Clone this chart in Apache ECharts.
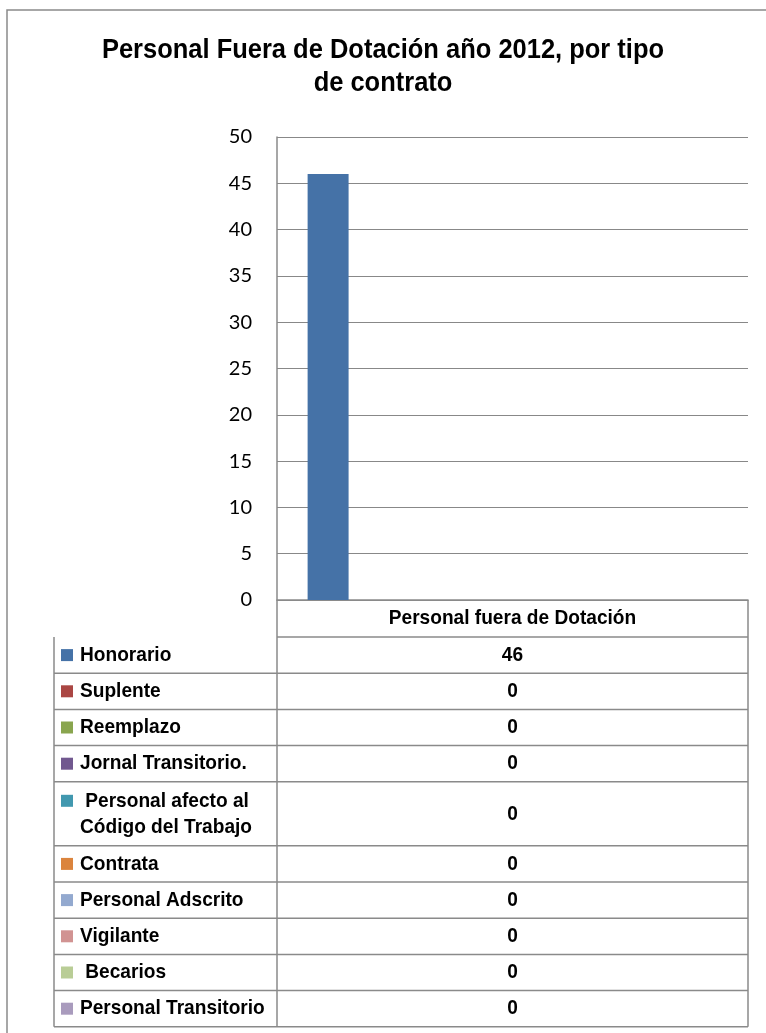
<!DOCTYPE html>
<html><head><meta charset="utf-8">
<script src="https://cdn.jsdelivr.net/npm/echarts@6/dist/echarts.min.js"></script>
<style>html,body{margin:0;padding:0;background:#fff}#c{width:766px;height:1033px}</style>
</head><body><div id="c"></div>
<script>
// ---- data ----
const chartTitle = 'Personal Fuera de Dotación año 2012, por tipo\nde contrato';
const categories = ['Personal fuera de Dotación'];
const seriesNames = ['Honorario', 'Suplente', 'Reemplazo', 'Jornal Transitorio.', ' Personal afecto al\nCódigo del Trabajo', 'Contrata', 'Personal Adscrito', 'Vigilante', ' Becarios', 'Personal Transitorio'];
const seriesValues = [[46], [0], [0], [0], [0], [0], [0], [0], [0], [0]];
const seriesColors = ['#4572A7', '#AA4643', '#89A54E', '#71588F', '#4198AF', '#DB843D', '#93A9CF', '#D19392', '#B9CD96', '#A99BBD'];
const yMin = 0, yMax = 50, yStep = 5;

// ---- style / layout ----
const SANS = "'Liberation Sans',Arial,sans-serif";
const NARROW_SCALE = 0.91;
const LINE = '#8a8a8a';
const GRID = { left: 277, top: 137, width: 471, height: 463 };
const TABLE_LEFT = 54;
const HEADER_H = 37;
const ROW_H = 36.2;
const EXTRA_LINE_H = 27.8;

const chart = echarts.init(document.getElementById('c'), null, { renderer: 'canvas' });

const series = seriesNames.map((n, i) => ({
  name: n,
  type: 'bar',
  data: seriesValues[i],
  itemStyle: { color: seriesColors[i] },
  barGap: '0%',
  barCategoryGap: '13%',
  animation: false
}));

chart.setOption({
  animation: false,
  backgroundColor: '#fff',
  grid: GRID,
  xAxis: {
    type: 'category',
    data: categories,
    axisLine: { lineStyle: { color: LINE, width: 1.5 } },
    axisTick: { show: false },
    axisLabel: { show: false }
  },
  yAxis: {
    type: 'value',
    min: yMin, max: yMax, interval: yStep,
    axisLine: { show: true, lineStyle: { color: LINE, width: 1.5 } },
    axisTick: { show: false },
    splitLine: { lineStyle: { color: '#888', width: 1 } },
    axisLabel: { fontFamily: 'Lato', fontSize: 20, color: '#000', margin: 25 }
  },
  series: series
});

// ---- title + data table drawn as graphic text/lines ----
const axisY = chart.convertToPixel({ gridIndex: 0 }, [0, yMin])[1];
const colLeft = GRID.left;
const colRight = GRID.left + GRID.width;
const colCenter = chart.convertToPixel({ xAxisIndex: 0 }, categories[0]);
const lw = 1.5;
const els = [];
function hline(x1, x2, y) { els.push({ type: 'line', shape: { x1, y1: y, x2, y2: y }, style: { stroke: LINE, lineWidth: lw }, silent: true }); }
function vline(x, y1, y2) { els.push({ type: 'line', shape: { x1: x, y1, x2: x, y2 }, style: { stroke: LINE, lineWidth: lw }, silent: true }); }
function ntext(str, x, y, align, size, lh) {
  els.push({ type: 'text', x: x, y: y, scaleX: NARROW_SCALE, silent: true,
    style: { text: str, x: 0, y: 0, textAlign: align, textVerticalAlign: 'middle', fontFamily: SANS, fontWeight: 'bold', fontSize: size, lineHeight: lh || size * 1.2, fill: '#000' } });
}

// title
ntext(chartTitle, 383, 67, 'center', 28, 33);

// header row
const headerBottom = axisY + HEADER_H;
ntext(categories[0], colCenter, axisY + HEADER_H / 2, 'center', 21);
hline(colLeft, colRight, headerBottom);

let y = headerBottom;
seriesNames.forEach((n, i) => {
  const lines = n.split('\n').length;
  const h = ROW_H + (lines - 1) * EXTRA_LINE_H;
  const cy = y + h / 2;
  const firstLineCy = cy - (lines - 1) * 13;
  els.push({ type: 'rect', shape: { x: 61, y: firstLineCy - 6, width: 12, height: 12 }, style: { fill: seriesColors[i] }, silent: true });
  ntext(n, 80, cy, 'left', 21, 26);
  ntext(String(seriesValues[i][0]), colCenter, cy, 'center', 21);
  y += h;
  hline(TABLE_LEFT, colRight, y);
});
const tableBottom = y;
vline(TABLE_LEFT, headerBottom, tableBottom);
vline(colLeft, axisY, tableBottom);
vline(colRight, axisY, tableBottom);

// outer chart border (cropped at right/bottom)
els.push({ type: 'polyline', shape: { points: [[7, 1040], [7, 10], [770, 10]] }, style: { stroke: '#8a8a8a', lineWidth: 1.5, fill: null }, silent: true });

chart.setOption({ graphic: { elements: els } });
</script></body></html>
